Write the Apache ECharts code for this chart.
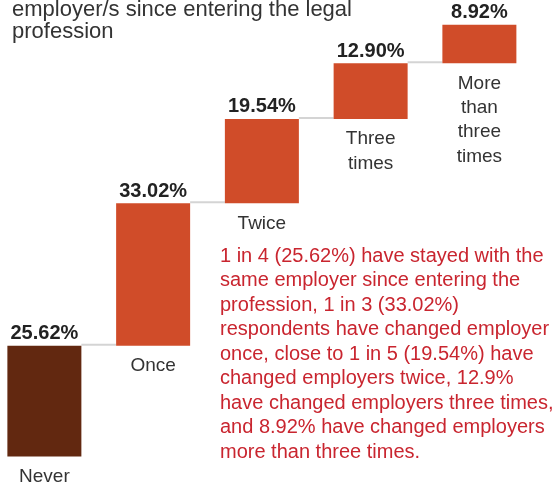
<!DOCTYPE html>
<html>
<head>
<meta charset="utf-8">
<script src="https://cdn.jsdelivr.net/npm/echarts@6/dist/echarts.min.js"></script>
<style>
  html, body { margin: 0; padding: 0; background: #ffffff; overflow: hidden; }
  body { position: relative; width: 558px; height: 491px; }
  /* the plot is nudged left so the first bar sits close to the page edge */
  #chart { position: absolute; left: -10px; top: 0; width: 568px; height: 491px; }
</style>
</head>
<body>
<div id="chart"></div>
<script>
// How many times respondents have changed employer
const categories = ['Never', 'Once', 'Twice', 'Three\ntimes', 'More\nthan\nthree\ntimes'];
const shares = [25.62, 33.02, 19.54, 12.90, 8.92];

const titleText = 'employer/s since entering the legal\nprofession';
const noteText = '1 in 4 (25.62%) have stayed with the\n' +
  'same employer since entering the\n' +
  'profession, 1 in 3 (33.02%)\n' +
  'respondents have changed employer\n' +
  'once, close to 1 in 5 (19.54%) have\n' +
  'changed employers twice, 12.9%\n' +
  'have changed employers three times,\n' +
  'and 8.92% have changed employers\n' +
  'more than three times.';

// Waterfall: each bar starts where the previous one ended
const bases = [];
const ends = [];
let running = 0;
shares.forEach(function (v) {
  bases.push(running);
  running += v;
  ends.push(running);
});
const connectors = ends.slice(0, -1).map(function (v, i) { return [i, v]; });

const BAR_W = 74;
const FONT = '"Liberation Sans", Arial, Helvetica, sans-serif';

const chart = echarts.init(document.getElementById('chart'), null, { renderer: 'canvas' });

chart.setOption({
  animation: false,
  backgroundColor: '#ffffff',
  title: {
    text: titleText,
    left: 17,
    top: -6,
    textStyle: {
      fontFamily: FONT,
      fontSize: 22,
      fontWeight: 'normal',
      color: '#333333',
      lineHeight: 22
    }
  },
  grid: { left: 0, width: 543.75, top: 24.7, bottom: 34.5, containLabel: false },
  xAxis: {
    type: 'category',
    data: categories,
    show: false
  },
  yAxis: {
    type: 'value',
    min: 0,
    max: 100,
    show: false
  },
  series: [
    {
      // invisible base, carries the category name just under each bar
      type: 'bar',
      stack: 'fall',
      barWidth: BAR_W,
      data: bases,
      itemStyle: { color: 'rgba(0,0,0,0)' },
      label: {
        show: true,
        position: 'insideTop',
        distance: 8,
        formatter: function (p) { return categories[p.dataIndex]; },
        fontFamily: FONT,
        fontSize: 19,
        lineHeight: 24.4,
        color: '#333333',
        align: 'center'
      },
      z: 3
    },
    {
      type: 'bar',
      stack: 'fall',
      barWidth: BAR_W,
      data: shares.map(function (v, i) {
        return { value: v, itemStyle: { color: i === 0 ? '#622810' : '#d04c29' } };
      }),
      label: {
        show: true,
        position: 'top',
        distance: 2,
        formatter: function (p) { return p.value.toFixed(2) + '%'; },
        fontFamily: FONT,
        fontSize: 20,
        fontWeight: 'bold',
        color: '#222222'
      },
      z: 2
    },
    {
      // grey connectors between consecutive bars
      type: 'custom',
      data: connectors,
      renderItem: function (params, api) {
        const i = api.value(0);
        const y = api.value(1);
        const a = api.coord([i, y]);
        const b = api.coord([i + 1, y]);
        return {
          type: 'line',
          shape: { x1: a[0] + BAR_W / 2, y1: a[1] - 1, x2: b[0] - BAR_W / 2, y2: b[1] - 1 },
          style: { stroke: '#d4d4d4', lineWidth: 2 }
        };
      },
      z: 1
    }
  ],
  graphic: [
    {
      type: 'text',
      left: 230,
      top: 244,
      style: {
        text: noteText,
        fontFamily: FONT,
        fontSize: 20,
        lineHeight: 24.5,
        fill: '#c9252f'
      }
    }
  ]
});
</script>
</body>
</html>
